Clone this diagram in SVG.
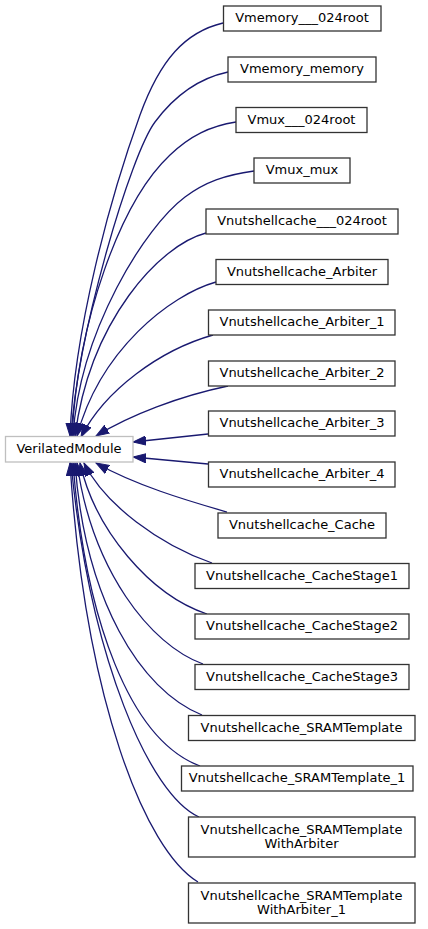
<svg xmlns="http://www.w3.org/2000/svg" width="428" height="929" viewBox="0 0 428 929">
<style>
.node rect{fill:#fff;stroke:#333;stroke-width:1.3}
#VerilatedModule rect{stroke:#bfbfbf}
text{font-family:"DejaVu Sans","Noto Sans",sans-serif;font-size:13px;text-anchor:middle;fill:#000}
.edges path{fill:none;stroke:#191970;stroke-width:1.3;marker-end:url(#ah)}
</style>
<defs>
<marker id="ah" markerUnits="userSpaceOnUse" viewBox="0 0 14 10" markerWidth="14" markerHeight="10" refX="13" refY="5" orient="auto">
<path d="M0,0.4 L13,5 L0,9.6 z" fill="#191970" stroke="#191970" stroke-width="1"/>
</marker>
</defs>
<rect width="428" height="929" fill="#fff"/>
<g class="edges" id="edges">
<path d="M223,23 C185,32 160,60 140,115 C110,198 74,330 70,436"/>
<path d="M228,72 C200,78 175,95 155,122 C131,154 78,330 71,436"/>
<path d="M236,122 C210,126 190,136 170,155 C120,202 78,320 72,436"/>
<path d="M254,171 C225,175 205,182 185,197 C145,227 80,330 73,436"/>
<path d="M206,233 C160,245 90,320 75,436"/>
<path d="M216,282 C170,295 100,350 77,436"/>
<path d="M213,335 C160,350 105,390 81,437"/>
<path d="M228,386 C180,396 130,415 96,436"/>
<path d="M208,434 L133,442"/>
<path d="M208,464 L133,457"/>
<path d="M227,512 C185,500 135,485 96,463"/>
<path d="M212,563 C160,545 105,505 84,463"/>
<path d="M207,614 C150,595 95,530 80,463"/>
<path d="M203,664 C150,645 92,570 77,463"/>
<path d="M202,715 C140,690 85,600 75,463"/>
<path d="M200,766 C130,740 85,620 73,463"/>
<path d="M199,817 C150,795 90,660 71,463"/>
<path d="M198,882 C145,850 85,700 70,463"/>
</g>
<g class="node" id="VerilatedModule"><rect x="5.5" y="436.5" width="127.5" height="25.5"/><text x="69" y="452.5">VerilatedModule</text></g>
<g class="node" id="n1"><rect x="223.5" y="6" width="157.5" height="25"/><text x="302" y="22">Vmemory___024root</text></g>
<g class="node" id="n2"><rect x="228" y="57" width="148" height="25"/><text x="302" y="73">Vmemory_memory</text></g>
<g class="node" id="n3"><rect x="236" y="107.5" width="131" height="25"/><text x="301.5" y="123.5">Vmux___024root</text></g>
<g class="node" id="n4"><rect x="254" y="158" width="96" height="25"/><text x="302" y="174">Vmux_mux</text></g>
<g class="node" id="n5"><rect x="206" y="209" width="192" height="25"/><text x="302" y="225">Vnutshellcache___024root</text></g>
<g class="node" id="n6"><rect x="216" y="259.5" width="172" height="25"/><text x="302" y="275.5">Vnutshellcache_Arbiter</text></g>
<g class="node" id="n7"><rect x="208.5" y="310" width="186.5" height="25"/><text x="302" y="326">Vnutshellcache_Arbiter_1</text></g>
<g class="node" id="n8"><rect x="208.5" y="361" width="186.5" height="25"/><text x="302" y="377">Vnutshellcache_Arbiter_2</text></g>
<g class="node" id="n9"><rect x="208.5" y="411" width="186.5" height="25"/><text x="302" y="427">Vnutshellcache_Arbiter_3</text></g>
<g class="node" id="n10"><rect x="208.5" y="462" width="186.5" height="25"/><text x="302" y="478">Vnutshellcache_Arbiter_4</text></g>
<g class="node" id="n11"><rect x="218" y="513" width="168" height="25"/><text x="302" y="529">Vnutshellcache_Cache</text></g>
<g class="node" id="n12"><rect x="195" y="563.5" width="214" height="25"/><text x="302" y="579.5">Vnutshellcache_CacheStage1</text></g>
<g class="node" id="n13"><rect x="195" y="614" width="214" height="25"/><text x="302" y="630">Vnutshellcache_CacheStage2</text></g>
<g class="node" id="n14"><rect x="195" y="664.5" width="214" height="25"/><text x="302" y="680.5">Vnutshellcache_CacheStage3</text></g>
<g class="node" id="n15"><rect x="188.5" y="715.5" width="226.5" height="25"/><text x="301.5" y="731.5">Vnutshellcache_SRAMTemplate</text></g>
<g class="node" id="n16"><rect x="181.5" y="766" width="231.5" height="25"/><text x="297" y="782">Vnutshellcache_SRAMTemplate_1</text></g>
<g class="node" id="n17"><rect x="188.5" y="817" width="226.5" height="40"/><text x="301.5" y="833.5">Vnutshellcache_SRAMTemplate</text><text x="301.5" y="848">WithArbiter</text></g>
<g class="node" id="n18"><rect x="188.5" y="883" width="226.5" height="40"/><text x="301.5" y="899.5">Vnutshellcache_SRAMTemplate</text><text x="301.5" y="914">WithArbiter_1</text></g>
</svg>
